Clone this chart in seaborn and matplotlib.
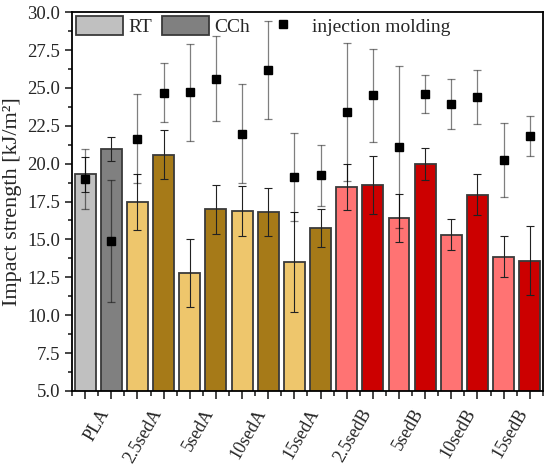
import numpy as np
import pandas as pd
import seaborn as sns
import matplotlib.pyplot as plt
from matplotlib.patches import Patch
from matplotlib.lines import Line2D

# 9 materials, each tested after RT and CCh conditioning
groups = ["PLA", "2.5sedA", "5sedA", "10sedA", "15sedA",
          "2.5sedB", "5sedB", "10sedB", "15sedB"]
conditions = ["RT", "CCh"]

bar_values = [19.3, 20.95, 17.45, 20.6, 12.77, 16.98, 16.87, 16.82, 13.52,
              15.77, 18.47, 18.58, 16.43, 19.98, 15.32, 17.95, 13.86, 13.6]
bar_errors = [1.15, 0.8, 1.85, 1.6, 2.24, 1.6, 1.65, 1.6, 3.3,
              1.27, 1.5, 1.93, 1.6, 1.06, 1.04, 1.37, 1.35, 2.28]

molding_values = [19.0, 14.9, 21.66, 24.69, 24.72, 25.61, 21.98, 26.17, 19.14,
                  19.22, 23.4, 24.51, 21.1, 24.6, 23.92, 24.4, 20.25, 21.82]
molding_errors = [2.0, 4.0, 2.94, 1.95, 3.2, 2.8, 3.27, 3.25, 2.9,
                  2.0, 4.55, 3.08, 5.35, 1.27, 1.66, 1.75, 2.45, 1.32]

group_colors = [("#c0c0c0", "#808080"),
                ("#eec66c", "#a67a18"), ("#eec66c", "#a67a18"),
                ("#eec66c", "#a67a18"), ("#eec66c", "#a67a18"),
                ("#ff7373", "#cc0000"), ("#ff7373", "#cc0000"),
                ("#ff7373", "#cc0000"), ("#ff7373", "#cc0000")]

sns.set_style("ticks")
plt.rcParams["font.family"] = ["Liberation Serif", "DejaVu Serif"]

data = pd.DataFrame({
    "bar": [f"{g} {c}" for g in groups for c in conditions],
    "value": bar_values,
})
palette = [col for pair in group_colors for col in pair]

fig, ax = plt.subplots(figsize=(5.5, 4.66), dpi=100)
fig.subplots_adjust(left=0.131, right=0.987, top=0.974, bottom=0.161)

sns.barplot(data=data, x="bar", y="value", hue="bar", palette=palette,
            legend=False, width=0.8, edgecolor="#3a3a3a", linewidth=1.3,
            saturation=1, ax=ax)

pos = np.arange(len(bar_values))
ax.errorbar(pos, bar_values, yerr=bar_errors, fmt="none", ecolor="#222222",
            elinewidth=0.8, capsize=3, capthick=0.8, zorder=4)
ax.errorbar(pos, molding_values, yerr=molding_errors, fmt="s", color="black",
            markersize=6, ecolor=(0, 0, 0, 0.5), elinewidth=0.9, capsize=3,
            capthick=0.9, zorder=5)

ax.set_ylim(5, 30)
ax.set_xlim(-0.5, len(bar_values) - 0.5)
ax.set_yticks(np.arange(5, 30.01, 2.5))
ax.set_yticks(np.arange(6.25, 30, 2.5), minor=True)
ax.set_yticklabels([f"{v:.1f}" for v in np.arange(5, 30.01, 2.5)], fontsize=13.5)

ax.set_xticks(pos, [""] * len(pos))
ax.set_xticks(np.arange(-0.5, len(pos)), minor=True)
minor_labels = []
for k in range(len(pos) + 1):
    minor_labels.append(groups[k // 2] if k % 2 == 1 else "")
ax.set_xticklabels(minor_labels, minor=True, rotation=60, ha="right",
                   rotation_mode="anchor", fontsize=13)

ax.tick_params(axis="y", which="major", direction="out", length=5, width=1.2)
ax.tick_params(axis="y", which="minor", direction="out", length=3, width=1.2)
ax.tick_params(axis="x", which="major", direction="out", length=6, width=1.2)
ax.tick_params(axis="x", which="minor", direction="out", length=3.5, width=1.2, pad=7)

for side in ["top", "right", "left", "bottom"]:
    ax.spines[side].set_visible(True)
    ax.spines[side].set_linewidth(1.3)
    ax.spines[side].set_color("black")

ax.set_xlabel("")
ax.set_ylabel("Impact strength [kJ/m²]", fontsize=16, labelpad=4)

handles = [Patch(facecolor="#c0c0c0", edgecolor="#3a3a3a", linewidth=1.3),
           Patch(facecolor="#808080", edgecolor="#3a3a3a", linewidth=1.3),
           Line2D([], [], marker="s", color="black", linestyle="none", markersize=6)]
ax.legend(handles, ["RT", "CCh", "injection molding"], loc="upper left",
          ncol=3, frameon=False, fontsize=14, handlelength=2.4, handleheight=1.15,
          handletextpad=0.3, columnspacing=0.5, borderaxespad=0.1,
          borderpad=0.1)

fig.savefig("out.png", dpi=100)
